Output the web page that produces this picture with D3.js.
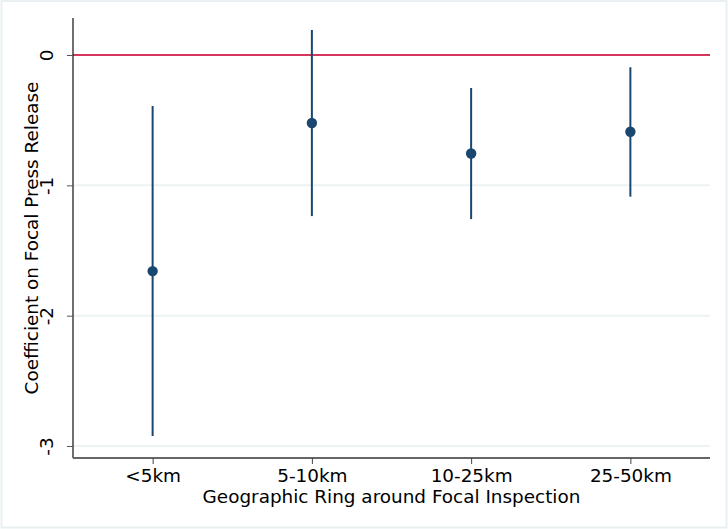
<!DOCTYPE html>
<html><head><meta charset="utf-8">
<script src="https://cdn.jsdelivr.net/npm/d3@7"></script>
<style>body{margin:0;background:#fff}svg{display:block}text{font-family:"DejaVu Sans",sans-serif;fill:#000}</style>
</head><body><svg id="c" width="728" height="529"></svg>
<script>
const categories = ["<5km","5-10km","10-25km","25-50km"];
const estimates = [-1.658, -0.522, -0.756, -0.589];
const ciLow = [-2.924, -1.236, -1.259, -1.087];
const ciHigh = [-0.391, 0.192, -0.253, -0.094];
const yTicks = [0, -1, -2, -3];
const xTitle = "Geographic Ring around Focal Inspection";
const yTitle = "Coefficient on Focal Press Release";

const svg = d3.select("#c");
// outer frame
svg.append("rect").attr("x",1.5).attr("y",1).attr("width",725).attr("height",526.5)
  .attr("fill","#fff").attr("stroke","#eaf0f2").attr("stroke-width",2);

const L=73, R=710, T=18, B=458;
const FS=18.4;
const x = d3.scaleLinear().domain([0.5,4.5]).range([L,R]);
const y = d3.scaleLinear().domain([-3.092,0.284]).range([B,T]);

// gridlines
svg.append("g").selectAll("line").data(yTicks.filter(d=>d!==0)).join("line")
  .attr("x1",L).attr("x2",R).attr("y1",d=>y(d)).attr("y2",d=>y(d))
  .attr("stroke","#edf2f3").attr("stroke-width",2);

// reference line at 0
svg.append("line").attr("x1",L).attr("x2",R).attr("y1",y(0)).attr("y2",y(0))
  .attr("stroke","#d4375b").attr("stroke-width",2);

// y axis
const yAxis = svg.append("g").attr("transform",`translate(${L},0)`)
  .call(d3.axisLeft(y).tickValues(yTicks).tickFormat(d3.format("d")).tickSize(6).tickPadding(0));
yAxis.select(".domain").attr("stroke","#222").attr("stroke-width",1.3).attr("d",`M0,${T}V${B}`);
yAxis.selectAll(".tick line").attr("stroke","#555");
yAxis.selectAll(".tick text").attr("font-size",FS).attr("text-anchor","middle")
  .attr("x",0).attr("transform","translate(-26,0) rotate(-90)")
  .attr("dy","0.35em").text(d=>String(d).replace("\u2212","-"));

// x axis
const xAxis = svg.append("g").attr("transform",`translate(0,${B})`)
  .call(d3.axisBottom(x).tickValues([1,2,3,4]).tickFormat((d,i)=>categories[i]).tickSize(6).tickPadding(0));
xAxis.select(".domain").attr("stroke","#666").attr("stroke-width",2).attr("d",`M${L},0H${R}`);
xAxis.selectAll(".tick line").attr("stroke","#444");
xAxis.selectAll(".tick text").attr("font-size",FS).attr("y",24).attr("dy",0);

// titles
svg.append("text").attr("x",(L+R)/2).attr("y",503).attr("text-anchor","middle")
  .attr("font-size",FS).text(xTitle);
svg.append("text").attr("transform",`translate(38,${(T+B)/2}) rotate(-90)`)
  .attr("text-anchor","middle").attr("font-size",FS).text(yTitle);

// CI lines
const data = categories.map((c,i)=>({c,i:i+1,est:estimates[i],lo:ciLow[i],hi:ciHigh[i]}));
svg.append("g").selectAll("line").data(data).join("line")
  .attr("x1",d=>x(d.i)).attr("x2",d=>x(d.i)).attr("y1",d=>y(d.hi)).attr("y2",d=>y(d.lo))
  .attr("stroke","#1a476f").attr("stroke-width",2);
svg.append("g").selectAll("circle").data(data).join("circle")
  .attr("cx",d=>x(d.i)).attr("cy",d=>y(d.est)).attr("r",5.2).attr("fill","#1a476f");
</script></body></html>
